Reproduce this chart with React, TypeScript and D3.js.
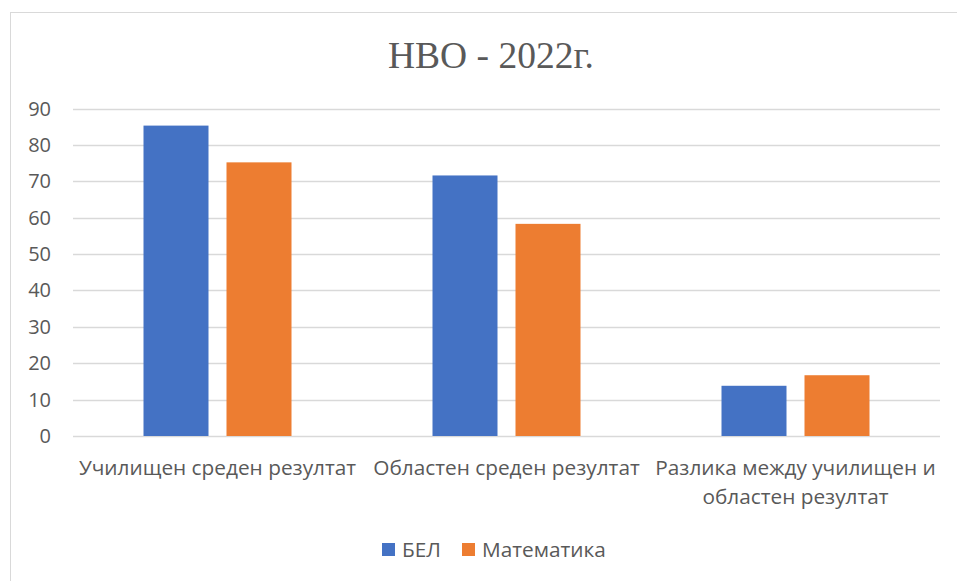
import React from "react";
import * as d3 from "d3";

const categories = [
  ["Училищен среден резултат"],
  ["Областен среден резултат"],
  ["Разлика между училищен и", "областен резултат"],
];
const seriesNames = ["БЕЛ", "Математика"];
const bel = [85.3, 71.6, 13.8];
const math = [75.2, 58.3, 16.7];
const yTicks = [0, 10, 20, 30, 40, 50, 60, 70, 80, 90];
const colors = ["#4472C4", "#ED7D31"];

const W = 957;
const H = 581;
const plot = { left: 73, right: 940, top: 108.5, bottom: 436 };

export default function App() {
  const x0 = d3
    .scaleBand<number>()
    .domain(categories.map((_, i) => i))
    .range([plot.left, plot.right]);
  const x1 = d3
    .scaleBand<number>()
    .domain([0, 1])
    .range([0, 148])
    .paddingInner(18 / 83);
  const y = d3.scaleLinear().domain([0, 90]).range([plot.bottom, plot.top]);
  const series = [bel, math];
  const font = "'Open Sans', sans-serif";

  return (
    <svg
      width={W}
      height={H}
      style={{ position: "absolute", left: 0, top: 0, background: "#fff" }}
    >
      <rect x={0} y={0} width={W} height={H} fill="#fff" />
      <rect x={10.5} y={12.5} width={1000} height={700} fill="#fff" stroke="#d9d9d9" strokeWidth={1} />
      <text
        x={491}
        y={67.5}
        textAnchor="middle"
        fontFamily="'Liberation Serif', 'Times New Roman', serif"
        fontSize={37.5}
        fill="#595959"
      >
        НВО - 2022г.
      </text>
      {yTicks.map((t) => (
        <g key={t}>
          <line
            x1={plot.left}
            x2={plot.right}
            y1={Math.round(y(t)) + 0.5}
            y2={Math.round(y(t)) + 0.5}
            stroke="#d9d9d9"
            strokeWidth={1.5}
          />
          <text
            x={51}
            y={y(t) + 7}
            textAnchor="end"
            fontFamily={font}
            fontSize={20}
            fill="#595959"
          >
            {t}
          </text>
        </g>
      ))}
      {categories.map((c, i) => {
        const cx = (x0(i) as number) + x0.bandwidth() / 2;
        const start = cx - 74;
        return (
          <g key={i}>
            {series.map((s, j) => (
              <rect
                key={j}
                x={start + (x1(j) as number)}
                y={y(s[i])}
                width={x1.bandwidth()}
                height={plot.bottom - y(s[i])}
                fill={colors[j]}
              />
            ))}
            {c.map((line, k) => (
              <text
                key={k}
                x={cx}
                y={475 + k * 29}
                textAnchor="middle"
                fontFamily={font}
                fontSize={20.8}
                fill="#595959"
              >
                {line}
              </text>
            ))}
          </g>
        );
      })}
      {seriesNames.map((n, j) => {
        const lx = j === 0 ? 382 : 462;
        return (
          <g key={n}>
            <rect x={lx} y={543} width={13} height={13} fill={colors[j]} />
            <text
              x={lx + 20}
              y={557}
              fontFamily={font}
              fontSize={20.8}
              fill="#595959"
            >
              {n}
            </text>
          </g>
        );
      })}
    </svg>
  );
}
